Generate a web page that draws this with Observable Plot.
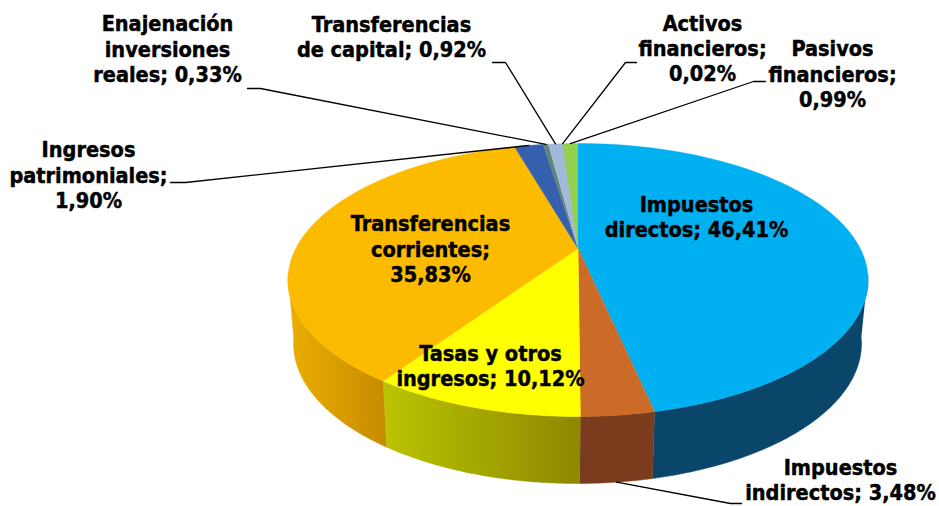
<!DOCTYPE html>
<html><head><meta charset="utf-8">
<style>html,body{margin:0;padding:0;background:#fff}svg{display:block}</style>
<script src="https://cdn.jsdelivr.net/npm/d3@7"></script>
<script src="https://cdn.jsdelivr.net/npm/@observablehq/plot@0.6"></script>
</head><body><div id="chart"></div>
<script>
const categories = ["Impuestos directos","Impuestos indirectos","Tasas y otros ingresos","Transferencias corrientes","Ingresos patrimoniales","Enajenación inversiones reales","Transferencias de capital","Activos financieros","Pasivos financieros"];
const shares = [46.41,3.48,10.12,35.83,1.90,0.33,0.92,0.02,0.99];
const labelLines = [
  "Impuestos\ndirectos; 46,41%","Impuestos\nindirectos; 3,48%","Tasas y otros\ningresos; 10,12%","Transferencias\ncorrientes;\n35,83%",
  "Ingresos\npatrimoniales;\n1,90%","Enajenación\ninversiones\nreales; 0,33%","Transferencias\nde capital; 0,92%","Activos\nfinancieros;\n0,02%","Pasivos\nfinancieros;\n0,99%"];
const topColors = ["#00b0f0","#cc6a28","#ffff00","#fdbb00","#3560ae","#5f8577","#a3b9d9","#8fb0a0","#92d050"];
const sideFills = ["#0a4669","#7a3c1c","url(#sideYellow)","url(#sideOrange)","#1f3a68","#3a5048","#62708a","#566a60","#587d30"];
// layout
const labelX = [696,840,490,430,88,167,391,702,832];
const labelY = [216,479,365,248,174,48,36,47.5,73];
const elbow = [null,[[730,503],[741,503]],null,null,[[185,182],[170,182]],[[260,88],[247,88]],[[505,62],[492,62]],[[625,62],[636,62]],[[753,81],[765,81]]];
const apex = [577.5,248], warp = 0.17;
const topRing = {cx:577.5,cy:279.5,rx:290,ry:136.5}, lowRing = {cx:577,cy:343,rx:284,ry:140};
const ringPoint = (ring,t) => {
  const d = 1 + warp*Math.cos(t);
  const s = Math.sin(t)*Math.sqrt(1-warp*warp)/d, c = (Math.cos(t)+warp)/d;
  return [ring.cx+ring.rx*s, ring.cy-ring.ry*c];
};
const cum = d3.cumsum(shares);
const angle = p => p/100*2*Math.PI;
const slices = shares.map((v,i)=>({i,a0:angle(cum[i]-v),a1:angle(cum[i])}));
const sweep = (a0,a1) => d3.range(0,81).map(k=>a0+(a1-a0)*k/80);
const face = s => [apex,...sweep(s.a0,s.a1).map(t=>ringPoint(topRing,t))];
// visible side runs from the right extreme to the left extreme of the ring
const tVisible0 = Math.acos(-warp), tVisible1 = 2*Math.PI-tVisible0;
const wall = s => {
  const a0=Math.max(s.a0,tVisible0-0.04), a1=Math.min(s.a1,tVisible1+0.04);
  if(a1<=a0) return null;
  const ts=sweep(a0,a1);
  return [...ts.map(t=>ringPoint(topRing,t)),...ts.slice().reverse().map(t=>ringPoint(lowRing,t))];
};
const defs = () => {
  const d = d3.create("svg:defs");
  const grad = (id,x1,x2,c1,c2)=>{const g=d.append("linearGradient").attr("id",id).attr("gradientUnits","userSpaceOnUse").attr("x1",x1).attr("x2",x2).attr("y1",0).attr("y2",0);
    g.append("stop").attr("offset",0).attr("stop-color",c1);g.append("stop").attr("offset",1).attr("stop-color",c2);};
  grad("sideYellow",384,580,"#bcc400","#8c8800");
  grad("sideOrange",288,385,"#ecae00","#c68c00");
  return d.node();
};
const xy={x:d=>d[0],y:d=>d[1]};
const fontFamily='"DejaVu Sans Condensed","DejaVu Sans",sans-serif';
const marks=[defs];
slices.forEach(s=>{const w=wall(s);if(w)marks.push(Plot.line(w,{...xy,fill:sideFills[s.i],stroke:sideFills[s.i],strokeWidth:0.5,curve:"linear"}));});
slices.forEach(s=>marks.push(Plot.line(face(s),{...xy,fill:topColors[s.i],stroke:topColors[s.i],strokeWidth:0.5,curve:"linear"})));
slices.forEach(s=>{ if(!elbow[s.i]) return;
  const mid=(s.a0+s.a1)/2;
  const start=s.i===1?ringPoint(lowRing,mid):ringPoint(topRing,mid);
  marks.push(Plot.line([start,...elbow[s.i]],{...xy,stroke:"#000",strokeWidth:1.3,curve:"linear"}));
});
marks.push(Plot.text(labelLines.map((t,i)=>({t,x:labelX[i],y:labelY[i]})),{x:"x",y:"y",text:"t",fontSize:21.5,fontWeight:"bold",fontFamily,fill:"#000",stroke:"#000",strokeWidth:0.45,lineHeight:1.165,textAnchor:"middle",lineAnchor:"middle"}));
const chart=Plot.plot({width:939,height:506,margin:0,style:{background:"#fff",overflow:"hidden"},
  x:{domain:[0,939],range:[0,939],axis:null},y:{domain:[0,506],range:[0,506],axis:null},marks});
document.getElementById("chart").append(chart);
</script></body></html>
